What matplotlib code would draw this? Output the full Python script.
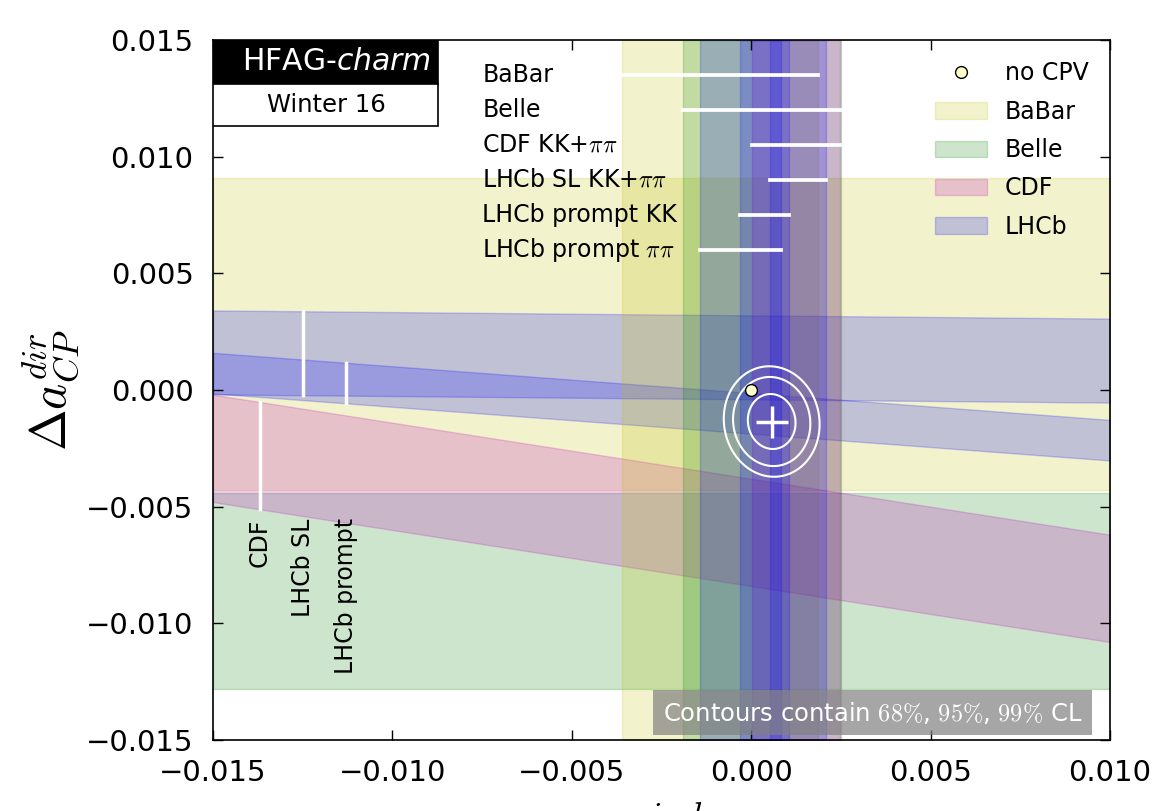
import numpy as np
import matplotlib
matplotlib.use('Agg')
import matplotlib.pyplot as plt
import matplotlib.patches as mpatches
from matplotlib.lines import Line2D

plt.rcParams['font.family'] = 'DejaVu Sans'
plt.rcParams['mathtext.fontset'] = 'cm'

# A_Gamma measurements -> vertical bands in a_CP^ind
ag_labels = ['BaBar', 'Belle', r'CDF KK+$\pi\pi$', r'LHCb SL KK+$\pi\pi$',
             'LHCb prompt KK', r'LHCb prompt $\pi\pi$']
ag_exp = ['BaBar', 'Belle', 'CDF', 'LHCb', 'LHCb', 'LHCb']
ag_val = [-0.00087, 0.0003, 0.00125, 0.0013, 0.00038, -0.0003]
ag_err = [0.00273, 0.0022, 0.00122, 0.00077, 0.00068, 0.00112]
ag_line_y = [0.0135, 0.012, 0.0105, 0.009, 0.0075, 0.006]

# Delta A_CP measurements -> bands, slope is <Delta t>/tau
dacp_labels = ['BaBar', 'Belle', 'CDF', 'LHCb SL', 'LHCb prompt']
dacp_exp = ['BaBar', 'Belle', 'CDF', 'LHCb', 'LHCb']
dacp_val = [0.0024, -0.0086, -0.0061, 0.0014, -0.0010]
dacp_err = [0.0067, 0.0042, 0.0023, 0.0018, 0.00087]
dacp_dt = [0.0, 0.0, 0.24, 0.014, 0.115]
dacp_line_x = [None, None, -0.0137, -0.0125, -0.0113]

exp_names = ['BaBar', 'Belle', 'CDF', 'LHCb']
exp_colors = ['y', 'g', 'm', 'b']

# combined fit
fit_x, fit_y = 0.00057, -0.00135
fit_sx, fit_sy, fit_rho = 0.00044, 0.00078, -0.05
cl_levels = [2.28, 5.99, 9.21]

xlim = (-0.015, 0.010)
ylim = (-0.015, 0.015)
col = dict(zip(exp_names, exp_colors))

fig = plt.figure(figsize=(11.61, 8.11), dpi=100)
ax = fig.add_axes([0.1835, 0.0875, 0.7726, 0.8632])

# tilted / horizontal bands
xs = np.array(xlim)
for e, v, s, k in zip(dacp_exp, dacp_val, dacp_err, dacp_dt):
    c = v - k * xs
    ax.fill_between(xs, c - s, c + s, color=col[e], alpha=0.2)

# vertical bands
ys = np.array(ylim)
for e, v, s in zip(ag_exp, ag_val, ag_err):
    ax.fill_betweenx(ys, v - s, v + s, color=col[e], alpha=0.2)

# white range markers + labels
for lab, v, s, yl in zip(ag_labels, ag_val, ag_err, ag_line_y):
    ax.plot([v - s, v + s], [yl, yl], color='white', lw=2.7)
    ax.text(-0.0075, yl, lab, fontsize=17, ha='left', va='center')

for lab, v, s, k, xl in zip(dacp_labels, dacp_val, dacp_err, dacp_dt, dacp_line_x):
    if xl is None:
        continue
    c = v - k * xl
    ax.plot([xl, xl], [c - s, c + s], color='white', lw=2.5)
    ax.text(xl, -0.0055, lab, fontsize=17, rotation=90, ha='center', va='top')

# contours
gx = np.linspace(xlim[0], xlim[1], 800)
gy = np.linspace(ylim[0], ylim[1], 800)
X, Y = np.meshgrid(gx, gy)
dx = (X - fit_x) / fit_sx
dy = (Y - fit_y) / fit_sy
chi2 = (dx**2 + dy**2 - 2 * fit_rho * dx * dy) / (1 - fit_rho**2)
ax.contour(X, Y, chi2, levels=cl_levels, colors='white', linewidths=1.5)
ax.plot(fit_x, fit_y, '+', color='white', ms=23, mew=2.5)
ax.plot(0, 0, 'o', mfc='#ffffcc', mec='k', ms=8.5, zorder=5)

# legend
handles = [Line2D([], [], ls='none', marker='o', mfc='#ffffcc', mec='k', ms=8.5)]
handles += [mpatches.Patch(color=c, alpha=0.2) for c in exp_colors]
ax.legend(handles, ['no CPV'] + exp_names, loc='upper right', frameon=False,
          fontsize=17, handlelength=2.2, handletextpad=0.75, labelspacing=0.61,
          numpoints=1)

# HFAG logo
ax.add_patch(mpatches.Rectangle((0, 0.937), 0.251, 0.063, transform=ax.transAxes,
                                fc='k', ec='k', lw=1.2, zorder=6))
ax.add_patch(mpatches.Rectangle((0, 0.877), 0.251, 0.06, transform=ax.transAxes,
                                fc='w', ec='k', lw=1.2, zorder=6))
ax.text(0.138, 0.969, r'HFAG-$\mathit{charm}$', transform=ax.transAxes, color='w',
        fontsize=21.5, ha='center', va='center', math_fontfamily='dejavusans', zorder=7)
ax.text(0.126, 0.907, 'Winter 16', transform=ax.transAxes, color='k',
        fontsize=17.5, ha='center', va='center', zorder=7)

ax.text(0.969, 0.039, r'Contours contain $68\%$, $95\%$, $99\%$ CL',
        transform=ax.transAxes, ha='right', va='center', color='w', fontsize=17.5,
        bbox=dict(boxstyle='square,pad=0.4', fc='gray', ec='none', alpha=0.7),
        zorder=7)

ax.set_xlim(xlim)
ax.set_ylim(ylim)
ax.set_xticks(np.linspace(-0.015, 0.010, 6))
ax.set_yticks(np.linspace(-0.015, 0.015, 7))
ax.tick_params(direction='in', length=7, width=1, labelsize=21, pad=14,
               top=True, right=True)
for sp in ax.spines.values():
    sp.set_linewidth(1.2)

ax.set_ylabel(r'$\Delta a_{CP}^{dir}$', fontsize=36)
ax.yaxis.set_label_coords(-0.147, 0.5)
ax.set_xlabel(r'$a_{CP}^{ind}$', fontsize=36)
ax.xaxis.set_label_coords(0.5, -0.087)

fig.savefig('out.png', dpi=100)
